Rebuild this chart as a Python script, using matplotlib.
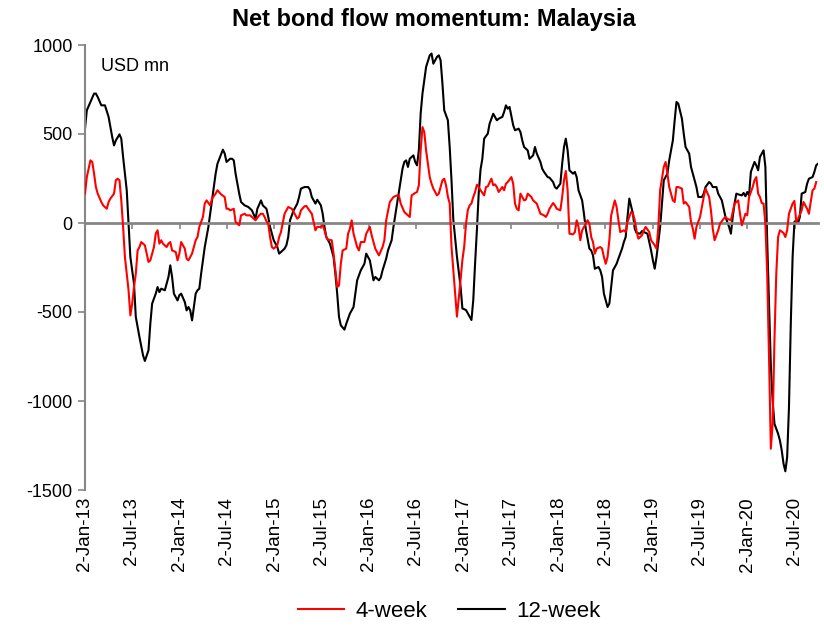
import matplotlib.pyplot as plt
import matplotlib.dates as mdates
import numpy as np
import pandas as pd

plt.rcParams['font.family'] = ['Liberation Sans', 'DejaVu Sans']
plt.rcParams['axes.unicode_minus'] = False

# weekly observations, counted in weeks from 2-Jan-13 (USD mn)
start = pd.Timestamp('2013-01-02')

weeks_4w = [0, 1, 3, 4, 5, 6, 7, 9, 10, 12, 13, 14, 16, 17, 18, 19, 20, 21, 22, 24,
            25, 26, 27, 28, 29, 30, 31, 33, 34, 35, 36, 38, 39, 40, 41, 42, 43, 45, 46, 47,
            48, 50, 51, 52, 53, 55, 56, 57, 59, 61, 62, 63, 65, 66, 67, 69, 70, 72, 73, 75,
            77, 78, 79, 80, 82, 83, 85, 86, 88, 89, 91, 93, 94, 96, 97, 98, 99, 100, 101, 102,
            103, 104, 106, 107, 108, 110, 111, 112, 114, 115, 117, 118, 119, 121, 122, 123, 125, 126, 127, 128,
            130, 131, 132, 133, 134, 136, 137, 138, 139, 140, 141, 142, 144, 145, 146, 147, 148, 150, 151, 152,
            154, 155, 157, 158, 160, 162, 164, 165, 166, 168, 170, 172, 173, 174, 176, 177, 179, 180, 182, 183,
            184, 185, 186, 187, 188, 190, 191, 192, 194, 195, 197, 198, 199, 200, 201, 202, 204, 205, 207, 208,
            209, 210, 211, 212, 213, 214, 215, 216, 217, 218, 220, 221, 222, 224, 225, 226, 227, 228, 230, 231,
            232, 233, 235, 236, 237, 238, 239, 240, 242, 243, 244, 246, 247, 249, 250, 251, 253, 254, 255, 256,
            258, 259, 260, 262, 263, 264, 265, 266, 267, 269, 270, 271, 272, 273, 274, 276, 277, 278, 279, 280,
            281, 282, 284, 285, 286, 287, 288, 289, 290, 292, 293, 294, 295, 297, 298, 299, 301, 302, 303, 304,
            305, 307, 308, 309, 311, 312, 314, 315, 316, 317, 319, 320, 321, 322, 324, 325, 326, 327, 329, 330,
            331, 333, 334, 335, 336, 337, 339, 340, 341, 342, 344, 345, 346, 347, 349, 350, 352, 353, 354, 356,
            357, 358, 360, 361, 362, 364, 365, 366, 368, 369, 370, 371, 372, 373, 374, 375, 376, 377, 378, 379,
            380, 381, 382, 383, 385, 386, 387, 388, 390, 391, 392, 393, 395, 396, 397, 398, 399, 401, 402, 403]
flow_4w = [165, 258, 352, 343, 277, 202, 165, 118, 99, 80, 118, 137, 165, 240, 249, 240, 127, -22, -191, -378,
           -519, -453, -360, -285, -154, -135, -107, -125, -172, -219, -210, -135, -60, -41, -116, -97, -116, -135, -116, -107,
           -154, -163, -210, -172, -107, -144, -200, -210, -172, -97, -79, -22, 34, 109, 127, 99, 137, 165, 184, 161,
           146, 80, 80, 71, 80, 6, -13, 43, 52, 43, 43, 24, 15, 43, 52, 52, 34, 10, -4, -79,
           -135, -144, -125, -79, -51, 52, 71, 90, 80, 62, 24, 34, 71, 94, 96, 80, 52, 6, -41, -22,
           -22, -13, -41, -79, -94, -97, -172, -266, -360, -351, -229, -154, -144, -60, -32, 15, -60, -135, -154, -107,
           -107, -60, -22, -69, -144, -182, -135, -97, 15, 118, 146, 155, 155, 109, 62, 52, 34, 155, 169, 174,
           212, 408, 539, 511, 408, 258, 221, 193, 155, 165, 240, 249, 212, 148, 110, -133, -395, -526, -320, -208,
           -133, -4, 73, 99, 110, 146, 174, 215, 202, 184, 155, 202, 206, 249, 212, 217, 202, 174, 202, 184,
           221, 230, 258, 221, 109, 80, 71, 165, 127, 131, 165, 146, 127, 109, 80, 52, 43, 34, 52, 80,
           112, 99, 80, 71, 146, 240, 292, 184, -60, -64, -51, 15, -22, -97, -41, -4, 15, -4, -79, -107,
           -172, -144, -135, -144, -191, -229, -191, -97, 43, 127, 90, 15, -51, -41, -51, 6, 62, 52, 15, -45,
           -88, -69, -41, -22, -51, -97, -125, -144, -22, 184, 315, 343, 277, 202, 127, 118, 202, 202, 193, 109,
           118, 90, 6, -32, -88, -22, 34, 90, 146, 193, 146, 71, -32, -97, -41, -4, 24, 34, 24, 15,
           62, 109, 127, 52, -13, 52, 43, 146, 202, 240, 258, 165, 146, 112, 109, -4, -285, -753, -1268, -1128,
           -659, -285, -79, -41, -56, -79, -41, 52, 109, 124, 6, 24, 71, 118, 99, 80, 52, 184, 193, 230]

weeks_12w = [0, 1, 3, 5, 6, 7, 9, 11, 13, 15, 16, 17, 19, 20, 21, 23, 24, 25, 27, 28,
             30, 32, 33, 35, 36, 37, 39, 40, 41, 42, 44, 45, 46, 47, 48, 49, 51, 52, 53, 55,
             56, 57, 58, 59, 61, 62, 63, 64, 66, 68, 70, 72, 73, 76, 77, 78, 80, 81, 82, 83,
             85, 86, 88, 90, 92, 94, 95, 97, 98, 100, 101, 102, 104, 106, 107, 108, 110, 111, 112, 113,
             115, 117, 118, 119, 121, 123, 124, 125, 127, 128, 130, 131, 132, 133, 135, 137, 138, 139, 140, 141,
             143, 144, 146, 148, 149, 150, 152, 153, 154, 155, 157, 158, 159, 160, 162, 163, 164, 166, 167, 169,
             170, 172, 174, 175, 176, 177, 178, 179, 181, 182, 183, 184, 185, 186, 187, 188, 190, 191, 192, 194,
             195, 196, 197, 198, 200, 201, 202, 203, 205, 207, 208, 210, 213, 214, 215, 216, 217, 218, 219, 220,
             222, 223, 225, 227, 228, 230, 231, 232, 233, 234, 236, 237, 239, 240, 241, 242, 244, 245, 247, 248,
             249, 251, 252, 253, 255, 256, 258, 259, 260, 262, 263, 264, 265, 266, 267, 269, 270, 271, 272, 274,
             275, 276, 278, 279, 280, 281, 283, 284, 285, 286, 288, 289, 290, 291, 293, 294, 296, 297, 298, 299,
             300, 302, 303, 304, 306, 307, 308, 310, 312, 313, 314, 315, 317, 318, 319, 321, 322, 324, 325, 326,
             327, 329, 330, 331, 333, 334, 336, 337, 338, 340, 341, 342, 344, 345, 346, 348, 349, 351, 352, 353,
             355, 356, 357, 358, 359, 360, 362, 363, 364, 365, 366, 367, 369, 370, 371, 372, 374, 375, 376, 377,
             378, 379, 380, 382, 383, 384, 385, 386, 387, 388, 389, 390, 391, 392, 393, 394, 395, 397, 398, 399,
             401, 402, 403, 404]
flow_12w = [530, 633, 680, 727, 727, 708, 661, 661, 596, 483, 436, 464, 498, 474, 371, 184, -4, -191, -341, -528,
            -640, -744, -775, -715, -566, -453, -397, -360, -388, -369, -378, -341, -303, -238, -303, -397, -435, -406, -397, -444,
            -491, -472, -491, -547, -397, -378, -369, -285, -135, -22, 127, 277, 333, 412, 390, 343, 361, 361, 352, 277,
            165, 118, 99, 90, 71, 24, 80, 127, 99, 80, 34, -22, -97, -135, -172, -163, -144, -125, -79, 15,
            71, 109, 146, 193, 202, 202, 187, 146, 109, 131, 99, 52, -22, -79, -116, -191, -285, -397, -528, -575,
            -599, -566, -509, -472, -397, -322, -266, -247, -229, -172, -210, -266, -322, -303, -322, -307, -266, -200, -154, -97,
            -22, 109, 240, 305, 343, 352, 315, 361, 380, 343, 324, 408, 614, 727, 802, 877, 942, 952, 895, 933,
            942, 914, 783, 633, 577, 427, 240, 20, -189, -358, -480, -489, -545, -433, -227, -39, 167, 300, 361, 474,
            502, 558, 614, 577, 586, 596, 624, 661, 642, 652, 549, 521, 530, 511, 464, 427, 408, 361, 380, 427,
            390, 343, 305, 287, 258, 255, 230, 202, 193, 221, 333, 427, 474, 408, 296, 277, 287, 258, 184, 127,
            52, -32, -144, -154, -182, -257, -247, -266, -303, -397, -472, -453, -360, -266, -229, -200, -144, -107, -79, 34,
            137, 52, -32, -56, -60, -45, -51, -60, -154, -210, -257, -191, -22, 109, 240, 277, 352, 464, 577, 680,
            670, 586, 502, 427, 390, 315, 240, 202, 146, 146, 165, 202, 230, 221, 202, 202, 165, 127, 80, 34,
            -22, -60, 34, 109, 165, 161, 155, 169, 150, 174, 155, 287, 343, 324, 296, 371, 408, 315, -100, -450,
            -800, -1000, -1128, -1184, -1221, -1277, -1352, -1395, -1315, -1034, -566, -191, 6, 15, 0, 34, 165, 174, 221, 249,
            258, 287, 324, 333]

y_ticks = [-1500, -1000, -500, 0, 500, 1000]
tick_dates = [pd.Timestamp(y, m, 2) for y in range(2013, 2021) for m in (1, 7)]
tick_labels = [f"{d.day}-{d.strftime('%b-%y')}" for d in tick_dates]


def to_num(weeks):
    return mdates.date2num(start + pd.to_timedelta(np.array(weeks) * 7, unit='D'))


grey = '#868686'

fig = plt.figure(figsize=(8.24, 6.28), dpi=100)
ax = fig.add_axes([85 / 824, 1 - 490 / 628, (818 - 85) / 824, (490 - 45) / 628])

ax.plot(to_num(weeks_4w), flow_4w, color='#ff0000', lw=1.5, label='4-week', zorder=3)
ax.plot(to_num(weeks_12w), flow_12w, color='black', lw=1.5, label='12-week', zorder=2)

ax.set_ylim(-1500, 1000)
ax.set_xlim(to_num([0])[0], to_num([404])[0])
ax.set_yticks(y_ticks)
ax.tick_params(axis='y', direction='out', length=5, color=grey, width=1.2,
               labelsize=13, pad=4)

# zero line with small ticks, labels kept at the bottom
for side in ('top', 'right'):
    ax.spines[side].set_visible(False)
ax.spines['left'].set_color(grey)
ax.spines['left'].set_linewidth(1.5)
ax.spines['bottom'].set_position(('data', 0))
ax.spines['bottom'].set_color(grey)
ax.spines['bottom'].set_linewidth(2)
ax.set_xticks(mdates.date2num(tick_dates))
ax.tick_params(axis='x', direction='out', length=4, color=grey, width=1.2,
               labelbottom=False)

sec = ax.secondary_xaxis('bottom')
sec.spines['bottom'].set_visible(False)
sec.set_xticks(mdates.date2num(tick_dates), tick_labels, rotation=90)
sec.tick_params(axis='x', length=0, labelsize=13.5, pad=5)

ax.text(0.022, 0.97, 'USD mn', transform=ax.transAxes, fontsize=13,
        ha='left', va='top')
fig.suptitle('Net bond flow momentum: Malaysia', x=0.527, y=0.988,
             fontsize=17, fontweight='bold')

fig.legend(loc='lower center', bbox_to_anchor=(0.545, -0.022), ncol=2,
           frameon=False, fontsize=16, handlelength=2.1, columnspacing=1.4,
           handletextpad=0.5)

fig.savefig('out.png', dpi=100)
